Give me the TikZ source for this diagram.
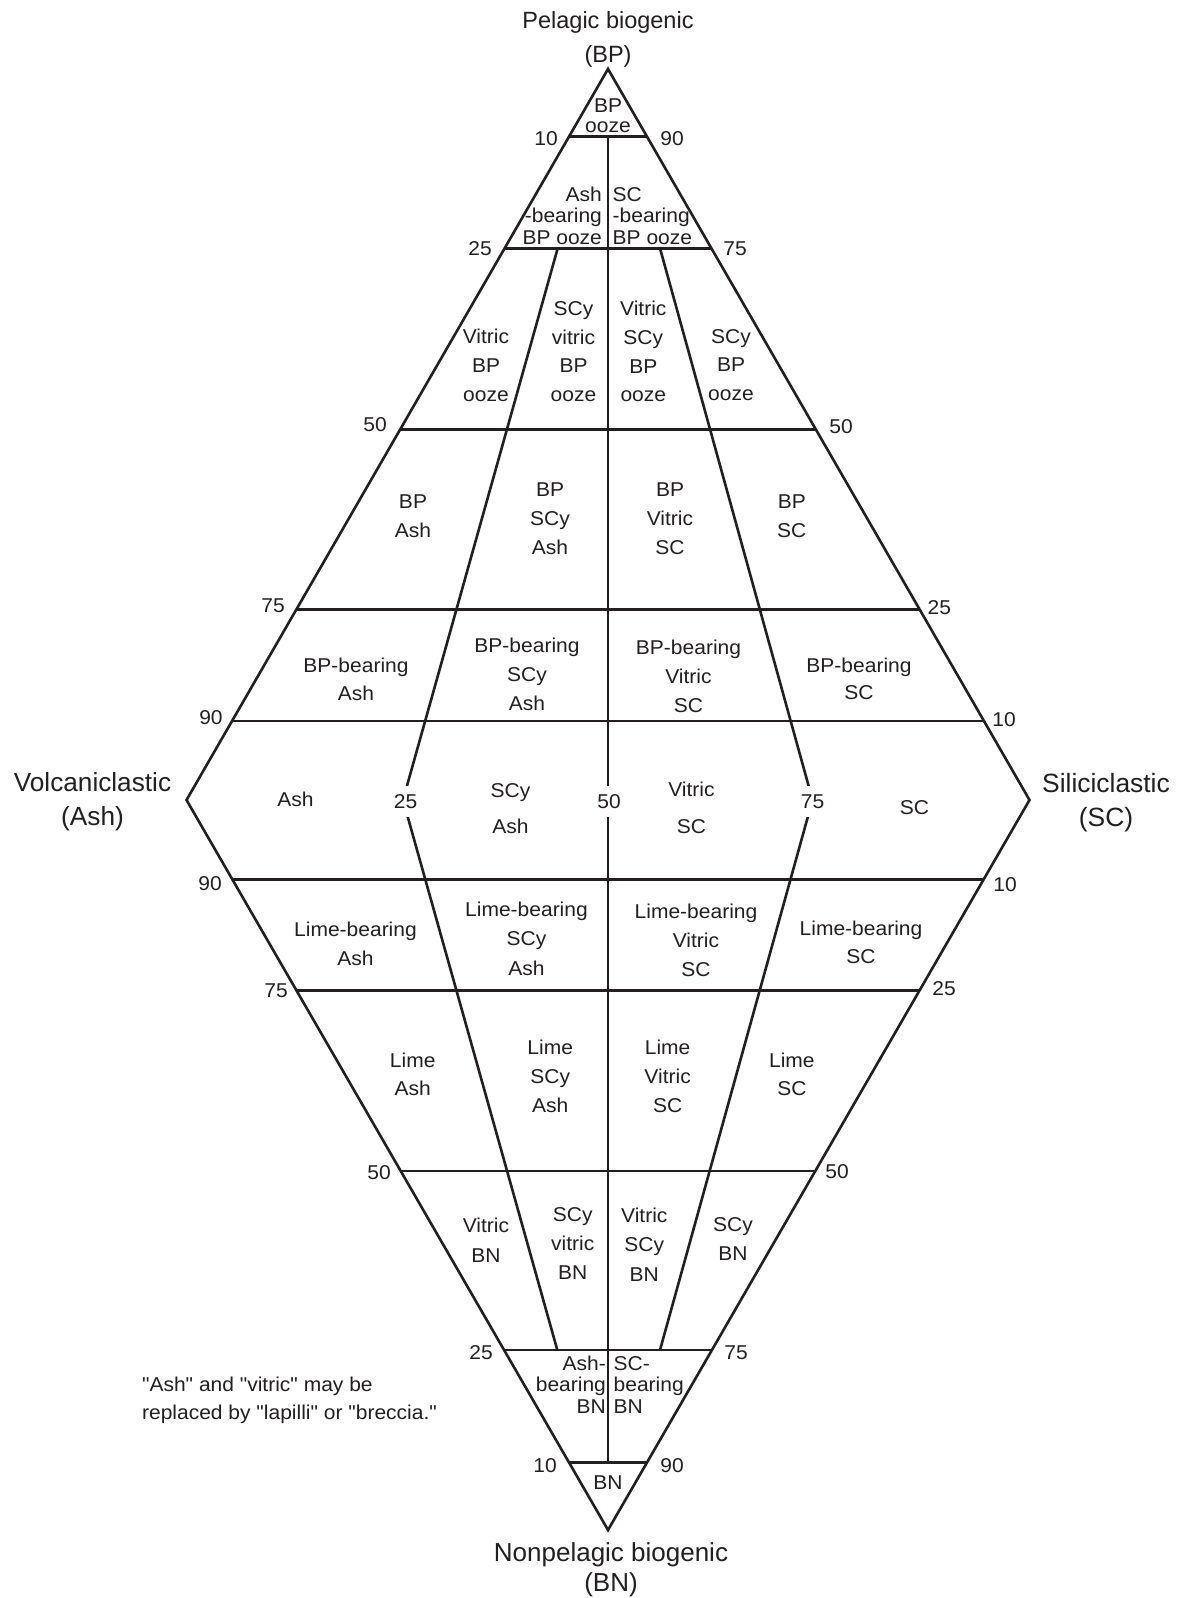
\documentclass[tikz,border=0pt]{standalone}
\usepackage{fontspec}
\setmainfont{Liberation Sans}
\newfontfamily\regfont[FakeStretch=1.05]{Liberation Sans}
\usetikzlibrary{calc}
\definecolor{ink}{RGB}{35,31,32}
\newcommand\cpst{\rule[\dimexpr0.358em-0.5\baselineskip\relax]{0pt}{\baselineskip}}
\tikzset{
  edge/.style={draw=ink, line width=1.3pt},
  reg/.style={font={\regfont\fontsize{10pt}{#1}\selectfont\lineskiplimit=-100pt\relax}, text=ink, align=center, inner sep=0pt},
  reg/.default=14.4pt,
  ttl/.style={text=ink, align=center, inner sep=0pt},
  midnum/.style={reg=15.5pt, fill=white, inner xsep=1pt}
}
\begin{document}
\begin{tikzpicture}[x=0.5pt,y=-0.5pt]
\useasboundingbox (0,0) rectangle (1177,1598);
\fill[white] (0,0) rectangle (1177,1598);
% frame
\coordinate (T) at (608,69);
\coordinate (B) at (608,1530);
\coordinate (L) at (186.5,800);
\coordinate (R) at (1029.5,800);
\draw[edge] (T) -- (R) -- (B) -- (L) -- cycle;
% horizontal divisions
\foreach \t in {0.0926,0.2453,0.4929,0.7394,0.8919}
  \draw[edge] ($(T)!\t!(L)$) -- ($(T)!\t!(R)$);
\foreach \t in {0.0927,0.2466,0.4918,0.7390,0.8914}
  \draw[edge] ($(B)!\t!(L)$) -- ($(B)!\t!(R)$);
% vertical divisions
\coordinate (C1) at (608,136.7);
\coordinate (C2) at (608,1462.3);
\coordinate (A1) at (557.7,248.3);
\coordinate (AM) at (403,800);
\coordinate (A2) at (557.3,1350);
\coordinate (S1) at (660,248.3);
\coordinate (SM) at (812.5,800);
\coordinate (S2) at (660,1350);
\draw[edge] (C1) -- (C2);
\draw[edge] (A1) -- (AM) -- (A2);
\draw[edge] (S1) -- (SM) -- (S2);
% numbers in the middle row
\node[midnum] (m25) at (405.5,801.5) {\cpst 25};
\node[midnum] (m50) at (609,801.5) {\cpst 50};
\node[midnum] (m75) at (812.5,801.5) {\cpst 75};
% titles
\node[ttl, font={\fontsize{11.75pt}{17.2pt}\selectfont}] (tbp) at (608,37.1) {\cpst Pelagic biogenic\\\cpst (BP)};
\node[ttl, font={\fontsize{13.1pt}{16.65pt}\selectfont}] (tash) at (92.5,799) {\cpst Volcaniclastic\\\cpst (Ash)};
\node[ttl, font={\fontsize{13.2pt}{16.8pt}\selectfont}] (tsc) at (1106,800) {\cpst Siliciclastic\\\cpst (SC)};
\node[ttl, font={\fontsize{13pt}{15pt}\selectfont}] (tbn) at (611,1567.5) {\cpst Nonpelagic biogenic\\\cpst (BN)};
% top triangle
\node[reg=10pt] (bpooze) at (608,115.8) {\cpst BP\\\cpst ooze};
\node[reg=10.6pt, align=right, anchor=east] (ashbpo) at (602.3,215.7) {\cpst Ash\\\cpst -bearing\\\cpst BP ooze};
\node[reg=10.6pt, align=left, anchor=west] (scbpo) at (612.3,215.7) {\cpst SC\\\cpst -bearing\\\cpst BP ooze};
% row 25-50 (upper)
\node[reg] (vbpo) at (486,365.3) {\cpst Vitric\\\cpst BP\\\cpst ooze};
\node[reg] (scyvbpo) at (573.5,351.3) {\cpst SCy\\\cpst vitric\\\cpst BP\\\cpst ooze};
\node[reg] (vscybpo) at (643.3,351.5) {\cpst Vitric\\\cpst SCy\\\cpst BP\\\cpst ooze};
\node[reg=14.1pt] (scybpo) at (731,364.8) {\cpst SCy\\\cpst BP\\\cpst ooze};
% row 50-75 (upper)
\node[reg=14.15pt] (bpash) at (413,515.9) {\cpst BP\\\cpst Ash};
\node[reg=14.5pt] (bpscyash) at (550,518.3) {\cpst BP\\\cpst SCy\\\cpst Ash};
\node[reg=14.5pt] (bpvsc) at (670,518.3) {\cpst BP\\\cpst Vitric\\\cpst SC};
\node[reg=14.15pt] (bpsc) at (791.8,515.9) {\cpst BP\\\cpst SC};
% row 75-90 (upper)
\node[reg=13.8pt] (bpbash) at (356,679.5) {\cpst BP-bearing\\\cpst Ash};
\node[reg=14.4pt] (bpbscyash) at (527,674.5) {\cpst BP-bearing\\\cpst SCy\\\cpst Ash};
\node[reg=14.4pt] (bpbvsc) at (688.5,676.2) {\cpst BP-bearing\\\cpst Vitric\\\cpst SC};
\node[reg=13.7pt] (bpbsc) at (859,678.7) {\cpst BP-bearing\\\cpst SC};
% middle row
\node[reg] (ash) at (295.5,799.5) {\cpst Ash};
\node[reg=18.35pt] (scyash) at (510.5,808.3) {\cpst SCy\\\cpst Ash};
\node[reg=18.6pt] (vsc) at (691.5,808) {\cpst Vitric\\\cpst SC};
\node[reg] (sc) at (914.5,807.3) {\cpst SC};
% row 90-75 (lower)
\node[reg=14.2pt] (lbash) at (355.5,943.8) {\cpst Lime-bearing\\\cpst Ash};
\node[reg=14.6pt] (lbscyash) at (526.5,938.8) {\cpst Lime-bearing\\\cpst SCy\\\cpst Ash};
\node[reg=14.4pt] (lbvsc) at (696,940.3) {\cpst Lime-bearing\\\cpst Vitric\\\cpst SC};
\node[reg=14.2pt] (lbsc) at (861,942.5) {\cpst Lime-bearing\\\cpst SC};
% row 75-50 (lower)
\node[reg=14.4pt] (lash) at (412.7,1074.3) {\cpst Lime\\\cpst Ash};
\node[reg=14.5pt] (lscyash) at (550.2,1076.3) {\cpst Lime\\\cpst SCy\\\cpst Ash};
\node[reg=14.5pt] (lvsc) at (667.6,1076.3) {\cpst Lime\\\cpst Vitric\\\cpst SC};
\node[reg=14.4pt] (lsc) at (791.9,1074.3) {\cpst Lime\\\cpst SC};
% row 50-25 (lower)
\node[reg=14.9pt] (vbn) at (486,1240.5) {\cpst Vitric\\\cpst BN};
\node[reg=14.45pt] (scyvbn) at (572.8,1243.5) {\cpst SCy\\\cpst vitric\\\cpst BN};
\node[reg=14.6pt] (vscybn) at (644.3,1244.8) {\cpst Vitric\\\cpst SCy\\\cpst BN};
\node[reg=14.5pt] (scybn) at (733,1239.3) {\cpst SCy\\\cpst BN};
% bottom triangle
\node[reg=10.65pt, align=right, anchor=east] (ashbbn) at (606.3,1384.8) {\cpst Ash-\\\cpst bearing\\\cpst BN};
\node[reg=10.65pt, align=left, anchor=west] (scbbn) at (613.3,1384.8) {\cpst SC-\\\cpst bearing\\\cpst BN};
\node[reg] (bn) at (608,1482) {\cpst BN};
% edge ticks
\node[reg] (k1) at (546,138) {\cpst 10};
\node[reg] (k2) at (672,138) {\cpst 90};
\node[reg] (k3) at (480,248) {\cpst 25};
\node[reg] (k4) at (735,248) {\cpst 75};
\node[reg] (k5) at (375,424) {\cpst 50};
\node[reg] (k6) at (841,426) {\cpst 50};
\node[reg] (k7) at (273,605.7) {\cpst 75};
\node[reg] (k8) at (939.4,607.3) {\cpst 25};
\node[reg] (k9) at (211,717) {\cpst 90};
\node[reg] (k10) at (1004,719) {\cpst 10};
\node[reg] (k11) at (210,883) {\cpst 90};
\node[reg] (k12) at (1005,884) {\cpst 10};
\node[reg] (k13) at (276,990) {\cpst 75};
\node[reg] (k14) at (944,988.5) {\cpst 25};
\node[reg] (k15) at (379,1172.7) {\cpst 50};
\node[reg] (k16) at (837,1171.7) {\cpst 50};
\node[reg] (k17) at (481,1352) {\cpst 25};
\node[reg] (k18) at (736,1352) {\cpst 75};
\node[reg] (k19) at (545,1465) {\cpst 10};
\node[reg] (k20) at (672,1465) {\cpst 90};
% note
\node[reg=13.85pt, align=left, anchor=west] (note) at (141.7,1398) {\cpst "Ash" and "vitric" may be\\\cpst replaced by "lapilli" or "breccia."};
\end{tikzpicture}
\end{document}
